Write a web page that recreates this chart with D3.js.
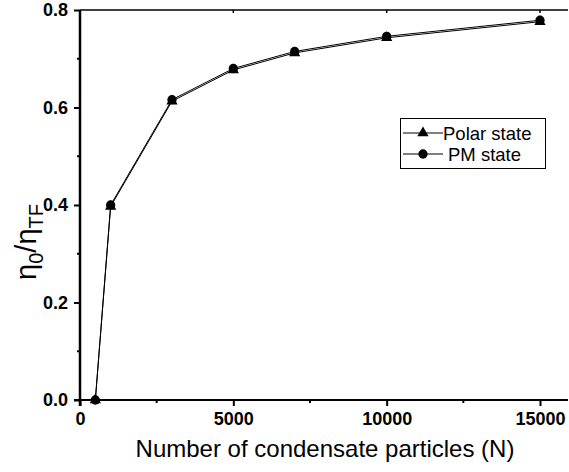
<!DOCTYPE html>
<html><head><meta charset="utf-8">
<script src="https://cdn.jsdelivr.net/npm/d3@7"></script>
<style>body{margin:0;background:#fff}svg{display:block;font-family:"Liberation Sans",Arial,sans-serif}</style>
</head><body><svg id="c" width="569" height="472"></svg>
<script>
const particles = [500, 1000, 3000, 5000, 7000, 10000, 15000];
const polarState = [0.0, 0.397, 0.613, 0.677, 0.712, 0.743, 0.776];
const pmState = [0.0, 0.400, 0.616, 0.680, 0.715, 0.746, 0.779];
const xTicks = [0, 5000, 10000, 15000];
const xMinor = [2500, 7500, 12500];
const yTicks = [0.0, 0.2, 0.4, 0.6, 0.8];
const yMinor = [0.1, 0.3, 0.5, 0.7];

const svg = d3.select("#c");
const L = 80, T = 10, B = 400, R = 568;
const x = d3.scaleLinear().domain([0, 15000]).range([L, 540]);
const y = d3.scaleLinear().domain([0, 0.8]).range([B, T]);

// top spine
svg.append("line").attr("x1", L).attr("x2", R).attr("y1", T).attr("y2", T).attr("stroke", "#000").attr("stroke-width", 1.5);
xTicks.forEach(v => svg.append("line").attr("x1", x(v)).attr("x2", x(v)).attr("y1", T).attr("y2", T + 3).attr("stroke", "#000").attr("stroke-width", 1.5));

// axes
const xAxis = d3.axisBottom(x).tickValues(xTicks).tickFormat(d3.format("d")).tickSize(6).tickPadding(6);
const gx = svg.append("g").attr("transform", `translate(0,${B})`).call(xAxis);
gx.select(".domain").attr("d", `M${L - 6},0H${R}`).attr("stroke-width", 2);
gx.selectAll(".tick line").attr("stroke-width", 2);
gx.selectAll("text").attr("font-size", 18).attr("font-weight", "bold").attr("fill", "#000");
gx.append("g").selectAll("line").data(xMinor).join("line")
  .attr("x1", d => x(d)).attr("x2", d => x(d)).attr("y1", 0).attr("y2", 3).attr("stroke", "#000").attr("stroke-width", 2);

const yAxis = d3.axisLeft(y).tickValues(yTicks).tickFormat(d3.format(".1f")).tickSize(6).tickPadding(6);
const gy = svg.append("g").attr("transform", `translate(${L},0)`).call(yAxis);
gy.select(".domain").attr("d", `M0,${B + 6}V${T}`).attr("stroke-width", 2.5);
gy.selectAll(".tick line").attr("stroke-width", 2);
gy.selectAll("text").attr("font-size", 18).attr("font-weight", "bold").attr("fill", "#000");
gy.append("g").selectAll("line").data(yMinor).join("line")
  .attr("x1", 0).attr("x2", -3).attr("y1", d => y(d)).attr("y2", d => y(d)).attr("stroke", "#000").attr("stroke-width", 2);

// series
const line = d3.line().x((d, i) => x(particles[i])).y(d => y(d));
svg.append("path").datum(polarState).attr("d", line).attr("fill", "none").attr("stroke", "#000").attr("stroke-width", 1);
svg.append("path").datum(pmState).attr("d", line).attr("fill", "none").attr("stroke", "#000").attr("stroke-width", 1);

const tri = d3.symbol().type(d3.symbolTriangle).size(55);
const circ = d3.symbol().type(d3.symbolCircle).size(68);
svg.append("g").selectAll("path").data(polarState).join("path")
  .attr("transform", (d, i) => `translate(${x(particles[i])},${y(d)})`).attr("d", tri).attr("fill", "#000");
svg.append("g").selectAll("path").data(pmState).join("path")
  .attr("transform", (d, i) => `translate(${x(particles[i])},${y(d)})`).attr("d", circ).attr("fill", "#000");

// legend
const lg = svg.append("g");
lg.append("rect").attr("x", 400.5).attr("y", 118.5).attr("width", 145).attr("height", 50).attr("fill", "#fff").attr("stroke", "#000").attr("stroke-width", 1);
const legendItems = [{label: "Polar state", sym: tri, yy: 133, tx: 443}, {label: "PM state", sym: circ, yy: 154, tx: 448}];
legendItems.forEach(it => {
  lg.append("line").attr("x1", 403).attr("x2", 443).attr("y1", it.yy).attr("y2", it.yy).attr("stroke", "#000").attr("stroke-width", 1);
  lg.append("path").attr("d", it.sym).attr("transform", `translate(423,${it.yy})`).attr("fill", "#000");
  lg.append("text").attr("x", it.tx).attr("y", it.yy + 6.5).attr("font-size", 18.5).attr("fill", "#000").text(it.label);
});

// axis titles
svg.append("text").attr("x", 325).attr("y", 457).attr("text-anchor", "middle").attr("font-size", 24).attr("fill", "#000")
  .text("Number of condensate particles (N)");
const yt = svg.append("text").attr("transform", "translate(36,242) rotate(-90)").attr("text-anchor", "middle").attr("font-size", 29).attr("fill", "#000");
yt.append("tspan").text("η");
yt.append("tspan").attr("font-size", 20).attr("dy", 7).text("0");
yt.append("tspan").attr("dy", -7).text("/η");
yt.append("tspan").attr("font-size", 20).attr("dy", 7).text("TF");
</script></body></html>
